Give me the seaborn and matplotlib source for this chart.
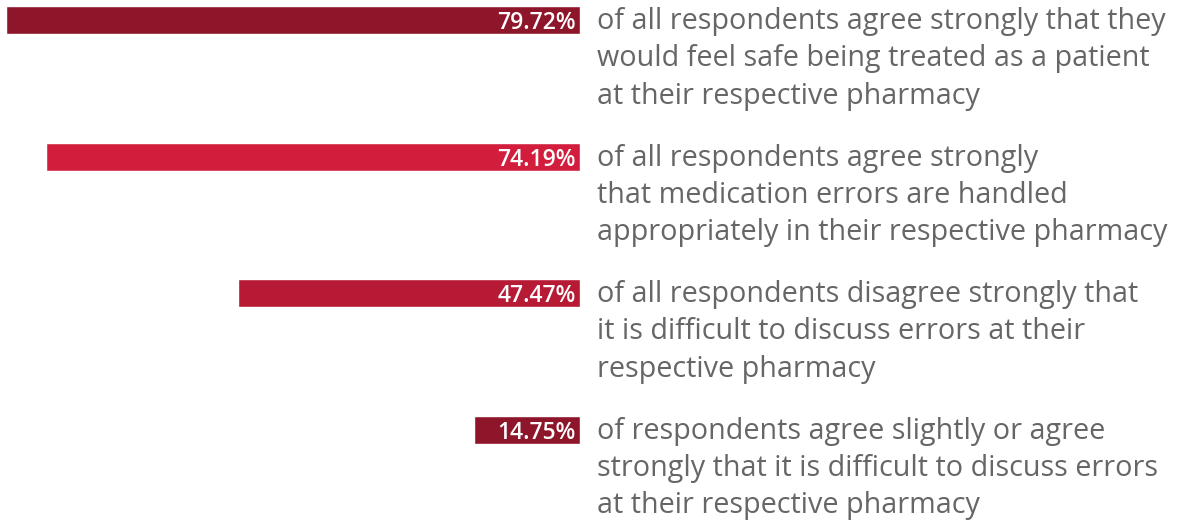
import matplotlib
matplotlib.use("Agg")
import matplotlib.pyplot as plt
import matplotlib.transforms as mtransforms
import pandas as pd
import seaborn as sns

# ── Data ──────────────────────────────────────────────────────────────────────
shares = [79.72, 74.19, 47.47, 14.75]
statements = [
    "of all respondents agree strongly that they\nwould feel safe being treated as a patient\nat their respective pharmacy",
    "of all respondents agree strongly\nthat medication errors are handled\nappropriately in their respective pharmacy",
    "of all respondents disagree strongly that\nit is difficult to discuss errors at their\nrespective pharmacy",
    "of respondents agree slightly or agree\nstrongly that it is difficult to discuss errors\nat their respective pharmacy",
]
bar_colors = ["#8e162b", "#d21e3c", "#b71a35", "#8e162b"]

# ── Figure ────────────────────────────────────────────────────────────────────
sns.set_theme(style="white")
plt.rcParams["font.family"] = ["Open Sans", "DejaVu Sans"]

W, H = 1183, 521
fig = plt.figure(figsize=(W / 100, H / 100), dpi=100)
ax = fig.add_axes([0, 0, 580 / W, 1])

df = pd.DataFrame({"key": [str(i) for i in range(len(shares))], "share": shares})
keys = list(df["key"])
sns.barplot(data=df, x="share", y="key", hue="key", order=keys, hue_order=keys,
            palette=dict(zip(keys, bar_colors)), legend=False, orient="h",
            width=0.205, saturation=1, ax=ax)

ax.set_xlim(580 / 7.2, 0)
ax.set_ylim(3.67, -0.1465)
ax.axis("off")

trans = mtransforms.blended_transform_factory(fig.transFigure, ax.transData)
for i, (v, s) in enumerate(zip(shares, statements)):
    ax.text(0.55, i, f"{v:.2f}%", ha="right", va="center_baseline",
            color="white", fontsize=16.5, fontweight="semibold")
    ax.text(597 / W, i - 0.095, s, transform=trans, ha="left", va="top",
            color="#666666", fontsize=20.7, linespacing=1.38)

fig.savefig("out.png", dpi=100)
